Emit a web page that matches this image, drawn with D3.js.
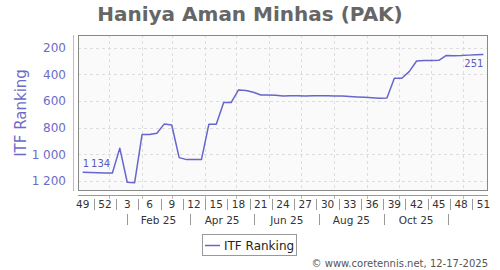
<!DOCTYPE html>
<html>
<head>
<meta charset="utf-8">
<script src="https://cdn.jsdelivr.net/npm/d3@7"></script>
<style>
  body { margin: 0; background: #fff; }
  text { font-family: "DejaVu Sans", Verdana, sans-serif; }
</style>
</head>
<body>
<script>
// Weekly ITF ranking, week 49 of 2024 to week 51 of 2025
var weekLabels = ["49", "52", "3", "6", "9", "12", "15", "18", "21", "24", "27", "30", "33", "36", "39", "42", "45", "48", "51"];
var rankings = [1134, 1137, 1139, 1140, 1140, 954, 1210, 1213, 852, 852,
                842, 772, 780, 1025, 1040, 1040, 1040, 775, 775, 612,
                612, 517, 522, 535, 555, 556, 557, 562, 561, 560,
                562, 561, 560, 560, 562, 562, 566, 570, 573, 576,
                580, 578, 430, 430, 380, 300, 297, 296, 295, 258,
                260, 259, 256, 254, 251];
var yTicks = [200, 400, 600, 800, 1000, 1200];
var firstWeek = "2024-12-21"; // where the month row lines up with the weeks

var width = 500,
    height = 270;
var plotLeft = 78, plotRight = 487, plotTop = 35, plotBottom = 190;

var svg = d3.select("body").append("svg")
    .attr("width", width)
    .attr("height", height);

var parse = d3.timeParse("%Y-%m-%d");
var d0 = parse(firstWeek);
var dates = rankings.map(function(d, i) { return d3.timeDay.offset(d0, 7 * i); });

//Scales
var x = d3.scaleLinear()
    .domain([0, rankings.length - 1])
    .range([82.7, 483.4]);
var xt = d3.scaleTime()
    .domain([dates[0], dates[dates.length - 1]])
    .range(x.range());
var y = d3.scaleLinear()
    .domain([105, 1268])
    .range([plotTop, plotBottom]);

var lineColor = "#6666cc";

//Title
svg.append("text")
    .attr("x", 250).attr("y", 21)
    .attr("text-anchor", "middle")
    .attr("font-size", 20).attr("font-weight", "bold")
    .attr("fill", "#666")
    .text("Haniya Aman Minhas (PAK)");

//Plot background
svg.append("rect")
    .attr("x", plotLeft).attr("y", plotTop)
    .attr("width", plotRight - plotLeft).attr("height", plotBottom - plotTop)
    .attr("fill", "#fafafa");

//Grid
var midMonths = d3.timeMonth.range(d3.timeMonth.floor(dates[0]), dates[dates.length - 1])
    .map(function(m) { return d3.timeDay.offset(m, 14); })
    .filter(function(m) { return m > dates[0] && m < dates[dates.length - 1]; });

svg.append("g").selectAll("line")
    .data(midMonths)
    .enter().append("line")
      .attr("x1", function(d) { return Math.round(xt(d)) + 0.5; })
      .attr("x2", function(d) { return Math.round(xt(d)) + 0.5; })
      .attr("y1", plotTop).attr("y2", plotBottom)
      .attr("stroke", "#ddd").attr("stroke-dasharray", "3,3");

svg.append("g").selectAll("line")
    .data(yTicks)
    .enter().append("line")
      .attr("x1", plotLeft).attr("x2", plotRight)
      .attr("y1", function(d) { return Math.round(y(d)) + 0.5; })
      .attr("y2", function(d) { return Math.round(y(d)) + 0.5; })
      .attr("stroke", "#ddd").attr("stroke-dasharray", "3,3");

//Plot border
svg.append("rect")
    .attr("x", plotLeft + 0.5).attr("y", plotTop + 0.5)
    .attr("width", plotRight - plotLeft).attr("height", plotBottom - plotTop)
    .attr("fill", "none").attr("stroke", "#888");

//Y axis
svg.append("line")
    .attr("x1", 73.5).attr("x2", 73.5)
    .attr("y1", plotTop).attr("y2", plotBottom + 1)
    .attr("stroke", "#b8b8e4");

var fmt = function(d) { return d3.format(",")(d).replace(",", " "); };
var fmtThin = function(d) { return d3.format(",")(d).replace(",", "\u2009"); };
svg.append("g").selectAll("text")
    .data(yTicks)
    .enter().append("text")
      .attr("x", 66).attr("y", function(d) { return y(d) + 4.5; })
      .attr("text-anchor", "end")
      .attr("font-size", 12).attr("fill", "#6b6bc8")
      .text(fmt);

svg.append("text")
    .attr("transform", "translate(26,113) rotate(-90)")
    .attr("text-anchor", "middle")
    .attr("font-size", 15).attr("fill", "#6b6bc8")
    .text("ITF Ranking");

//X axis
svg.append("line")
    .attr("x1", plotLeft).attr("x2", plotRight + 1)
    .attr("y1", 195.5).attr("y2", 195.5)
    .attr("stroke", "#999");

svg.append("g").selectAll("line")
    .data(midMonths)
    .enter().append("line")
      .attr("x1", function(d) { return Math.round(xt(d)) + 0.5; })
      .attr("x2", function(d) { return Math.round(xt(d)) + 0.5; })
      .attr("y1", 196).attr("y2", 199)
      .attr("stroke", "#bbb");

svg.append("g").selectAll("text")
    .data(weekLabels)
    .enter().append("text")
      .attr("x", function(d, i) { return x(i * 3); })
      .attr("y", 208)
      .attr("text-anchor", "middle")
      .attr("font-size", 10.5).attr("fill", "#333")
      .text(function(d) { return d; });

svg.append("g").selectAll("line")
    .data(weekLabels.slice(1))
    .enter().append("line")
      .attr("x1", function(d, i) { return Math.round(x(i * 3 + 1.5)) + 0.5; })
      .attr("x2", function(d, i) { return Math.round(x(i * 3 + 1.5)) + 0.5; })
      .attr("y1", 199).attr("y2", 210)
      .attr("stroke", "#999");

//Month row
var monthStarts = d3.timeMonth.range(parse("2025-02-01"), dates[dates.length - 1], 2);
svg.append("g").selectAll("line")
    .data(monthStarts)
    .enter().append("line")
      .attr("x1", function(d) { return Math.round(xt(d)) + 0.5; })
      .attr("x2", function(d) { return Math.round(xt(d)) + 0.5; })
      .attr("y1", 214).attr("y2", 225)
      .attr("stroke", "#999");

svg.append("g").selectAll("text")
    .data(monthStarts.slice(0, -1))
    .enter().append("text")
      .attr("x", function(d, i) { return (xt(d) + xt(monthStarts[i + 1])) / 2; })
      .attr("y", 224)
      .attr("text-anchor", "middle")
      .attr("font-size", 10.5).attr("fill", "#333")
      .text(d3.timeFormat("%b %y"));

//Ranking line
var line = d3.line()
    .x(function(d, i) { return x(i); })
    .y(function(d) { return y(d); });

svg.append("path")
    .datum(rankings)
    .attr("d", line)
    .attr("fill", "none")
    .attr("stroke", lineColor)
    .attr("stroke-width", 1.5)
    .attr("stroke-linejoin", "round");

//First and last values
svg.append("text")
    .attr("x", x(0)).attr("y", y(rankings[0]) - 5)
    .attr("font-size", 10).attr("fill", "#5a5ac0")
    .text(fmtThin(rankings[0]));

svg.append("text")
    .attr("x", x(rankings.length - 1)).attr("y", y(rankings[rankings.length - 1]) + 13)
    .attr("text-anchor", "end")
    .attr("font-size", 10).attr("fill", "#5a5ac0")
    .text(fmtThin(rankings[rankings.length - 1]));

//Legend
var legend = svg.append("g");
legend.append("rect")
    .attr("x", 202.5).attr("y", 234.5)
    .attr("width", 94).attr("height", 21)
    .attr("fill", "#fff").attr("stroke", "#999");
legend.append("line")
    .attr("x1", 205).attr("x2", 220)
    .attr("y1", 245.5).attr("y2", 245.5)
    .attr("stroke", lineColor).attr("stroke-width", 1.5);
legend.append("text")
    .attr("x", 224).attr("y", 250)
    .attr("font-size", 12).attr("fill", "#222")
    .text("ITF Ranking");

//Credit
svg.append("text")
    .attr("x", 488).attr("y", 267)
    .attr("text-anchor", "end")
    .attr("font-size", 10).attr("fill", "#555")
    .text("\u00a9 www.coretennis.net, 12-17-2025");
</script>
</body>
</html>
